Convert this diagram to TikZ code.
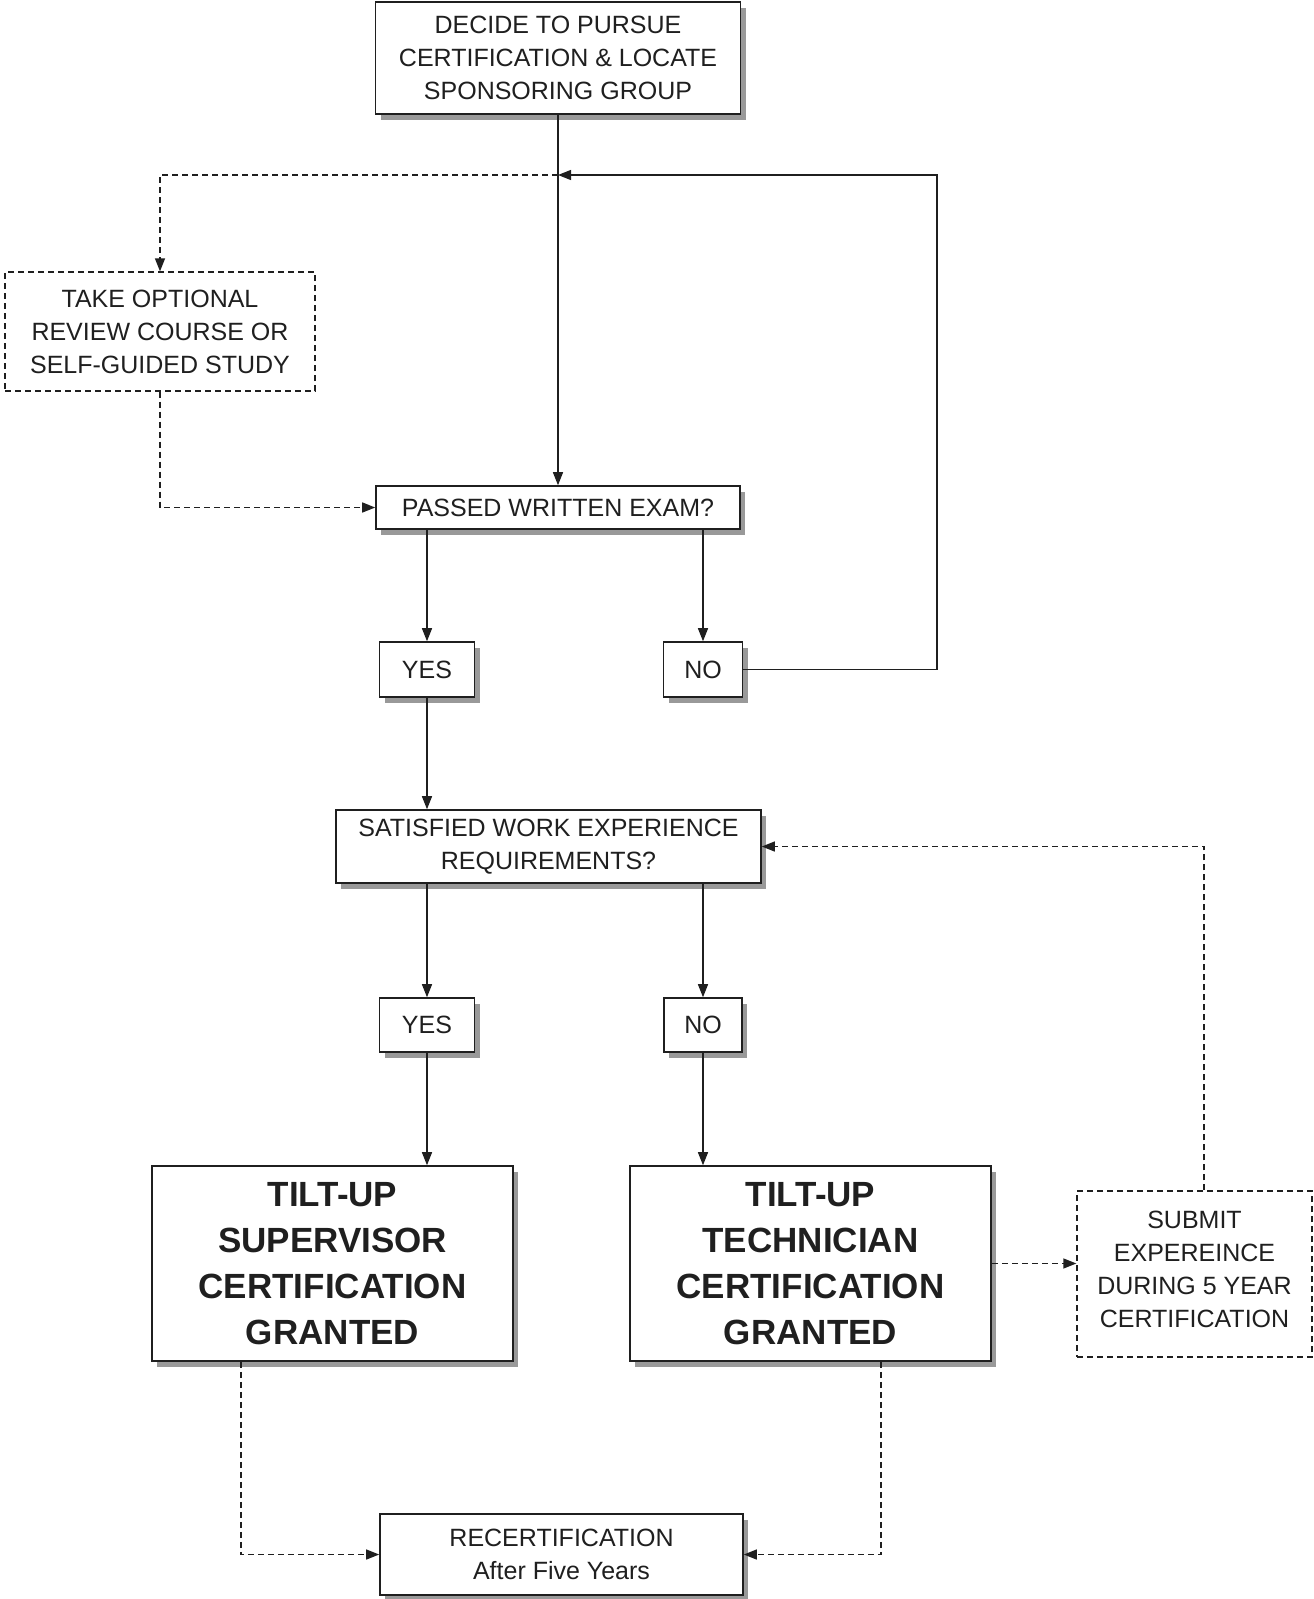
\documentclass[tikz,border=0pt]{standalone}
\usepackage{fontspec}
\setmainfont{Liberation Sans}
\usepackage{tikz}
\usetikzlibrary{shapes,positioning,arrows.meta,shadows}
\tikzset{box/.style={rectangle,draw,line width=1.6pt,fill=white,inner sep=0pt,align=center,
    text=black!88,font=\fontsize{25}{33}\selectfont,
    drop shadow={shadow xshift=5pt,shadow yshift=-6pt,fill=black!40,opacity=1}},
  dbox/.style={rectangle,draw,line width=1.3pt,dash pattern=on 6pt off 4pt,inner sep=0pt,align=center,
    text=black!88,font=\fontsize{25}{33}\selectfont},
  big/.style={box,font=\fontsize{35}{46}\selectfont\bfseries},
  dline/.style={dash pattern=on 6pt off 4pt}}

\begin{document}
\begin{tikzpicture}[x=1pt,y=-1pt,>={Triangle[length=13pt,width=10pt]},line width=1.3pt,draw=black!88]
    \useasboundingbox (0,0) rectangle (1314,1599);

    \node[box,minimum width=365,minimum height=112] (decide)at (558,58) {DECIDE TO PURSUE\\CERTIFICATION \& LOCATE\\SPONSORING GROUP};
    \node[dbox,minimum width=310,minimum height=119] (take)at (160,331.5) {TAKE OPTIONAL\\REVIEW COURSE OR\\SELF-GUIDED STUDY};
    \node[box,minimum width=364,minimum height=43] (passed)at (558,507.5) {PASSED WRITTEN EXAM?};
    \node[box,minimum width=95,minimum height=55] (yes1)at (427,669.5) {YES};
    \node[box,minimum width=79,minimum height=55] (no1)at (703,669.5) {NO};
    \node[box,minimum width=425,minimum height=73] (sat)at (548.5,846.5) {SATISFIED WORK EXPERIENCE\\REQUIREMENTS?};
    \node[box,minimum width=95,minimum height=54] (yes2)at (427,1025) {YES};
    \node[box,minimum width=78,minimum height=54] (no2)at (703,1025) {NO};
    \node[big,minimum width=361,minimum height=195] (super)at (332.5,1263.5) {TILT-UP\\SUPERVISOR\\CERTIFICATION\\GRANTED};
    \node[big,minimum width=361,minimum height=195] (tech)at (810.5,1263.5) {TILT-UP\\TECHNICIAN\\CERTIFICATION\\GRANTED};
    \node[dbox,minimum width=235,minimum height=166] (submit)at (1194.5,1274) {SUBMIT\\EXPEREINCE\\DURING 5 YEAR\\CERTIFICATION\\[-24pt]};
    \node[box,minimum width=363,minimum height=81] (recert)at (561.5,1554.5) {RECERTIFICATION\\After Five Years};

    \coordinate (j)at (558,175);
    \coordinate (nr)at (937,175);

    \draw [->] (decide) -- (passed);
    \draw [->] (no1.east) -| (nr) -- (j);
    \draw [dline,->] (j) -| (take.north);
    \draw [dline,->] (take.south) |- (passed.west);
    \draw [->] (passed.south -| yes1) -- (yes1);
    \draw [->] (passed.south -| no1) -- (no1);
    \draw [->] (yes1) -- (yes1 |- sat.north);
    \draw [->] (sat.south -| yes2) -- (yes2);
    \draw [->] (sat.south -| no2) -- (no2);
    \draw [->] (yes2) -- (yes2 |- super.north);
    \draw [->] (no2) -- (no2 |- tech.north);
    \draw [dline,->] (tech.east) -- (tech.east -| submit.west);
    \draw [dline,->] ([xshift=9.5]submit.north) |- (sat.east);
    \draw [dline,->] ([xshift=-91.5]super.south) |- (recert.west);
    \draw [dline,->] ([xshift=70.5]tech.south) |- (recert.east);
\end{tikzpicture}
\end{document}
